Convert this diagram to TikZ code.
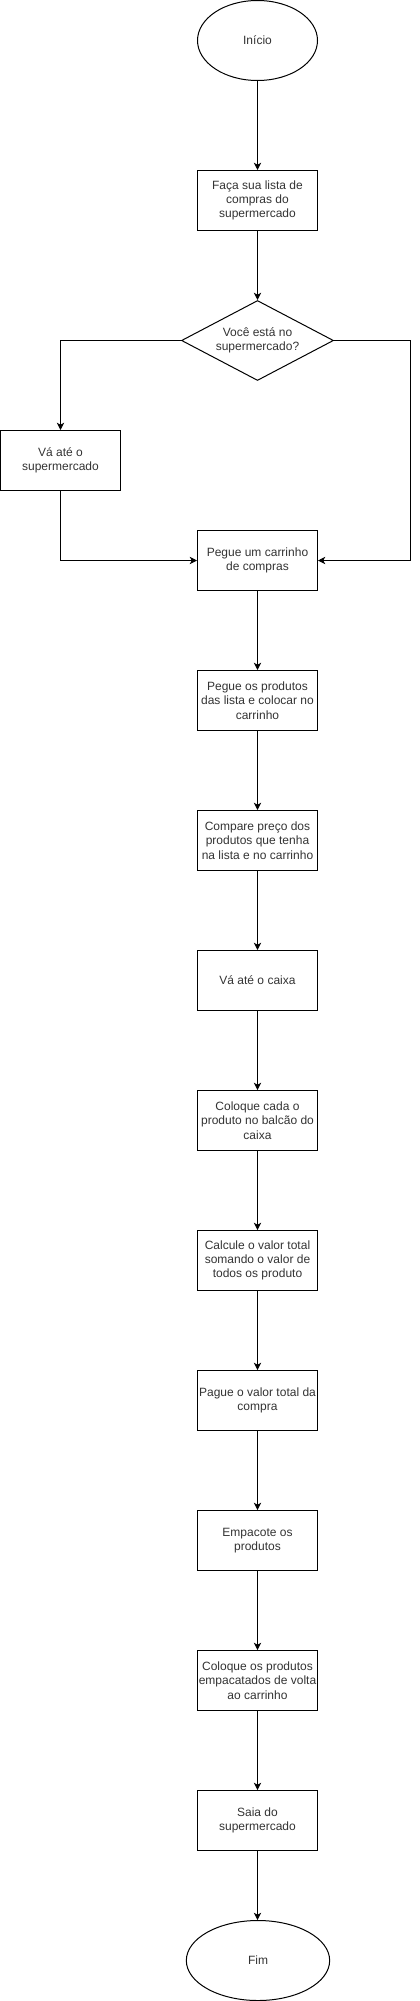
\documentclass[tikz,border=0pt]{standalone}
\usepackage{fontspec}
\setmainfont{Liberation Sans}
\usetikzlibrary{shapes.geometric,arrows.meta}
\begin{document}
\begin{tikzpicture}[x=0.75pt,y=-0.75pt,
  every node/.style={font=\fontsize{9pt}{10.75pt}\selectfont, align=center, line width=0.75pt, text=black!80},
  procbox/.style={draw, rectangle, minimum width=90pt, minimum height=45pt, inner sep=0pt},
  termnode/.style={draw, ellipse, minimum height=60pt, inner sep=0pt},
  decnode/.style={draw, diamond, minimum width=114pt, minimum height=60pt, inner sep=0pt},
  flow/.style={line width=0.75pt, -{Stealth[length=5.5pt,width=5.5pt,inset=1.6pt]}}
]
\useasboundingbox (0,0) rectangle (419,2001);
\node[termnode, minimum width=90pt] (ini) at (257.5,40.5) {Início};
\node[procbox] (faca) at (257.5,200.5) {Faça sua lista de\\compras do\\supermercado};
\node[decnode] (dec) at (257.5,340.5) {};
\node (dectext) at (dec.center) {Você está no\\supermercado?};
\node[procbox] (va) at (60.5,460.5) {Vá até o\\supermercado};
\node[procbox] (carr) at (257.5,560.5) {Pegue um carrinho\\de compras};
\node[procbox] (prod) at (257.5,700.5) {Pegue os produtos\\das lista e colocar no\\carrinho};
\node[procbox] (comp) at (257.5,840.5) {Compare preço dos\\produtos que tenha\\na lista e no carrinho};
\node[procbox] (caixa) at (257.5,980.5) {Vá até o caixa};
\node[procbox] (balc) at (257.5,1120.5) {Coloque cada o\\produto no balcão do\\caixa};
\node[procbox] (calc) at (257.5,1260.5) {Calcule o valor total\\somando o valor de\\todos os produto};
\node[procbox] (pag) at (257.5,1400.5) {Pague o valor total da\\compra};
\node[procbox] (emp) at (257.5,1540.5) {Empacote os\\produtos};
\node[procbox] (volta) at (257.5,1680.5) {Coloque os produtos\\empacatados de volta\\ao carrinho};
\node[procbox] (saia) at (257.5,1820.5) {Saia do\\supermercado};
\node[termnode, minimum width=107.5pt] (fim) at (258,1960.5) {Fim};
\coordinate (rgt) at (410.5,340.5);

\draw[flow] (ini) -- (faca);
\draw[flow] (faca) -- (dec);
\draw[flow] (dec.west) -| (va.north);
\draw[flow] (va.south) |- (carr.west);
\draw[flow] (dec.east) -- (rgt) |- (carr.east);
\draw[flow] (carr) -- (prod);
\draw[flow] (prod) -- (comp);
\draw[flow] (comp) -- (caixa);
\draw[flow] (caixa) -- (balc);
\draw[flow] (balc) -- (calc);
\draw[flow] (calc) -- (pag);
\draw[flow] (pag) -- (emp);
\draw[flow] (emp) -- (volta);
\draw[flow] (volta) -- (saia);
\draw[flow] (saia.south) -- (saia.south |- fim.north);
\end{tikzpicture}
\end{document}
